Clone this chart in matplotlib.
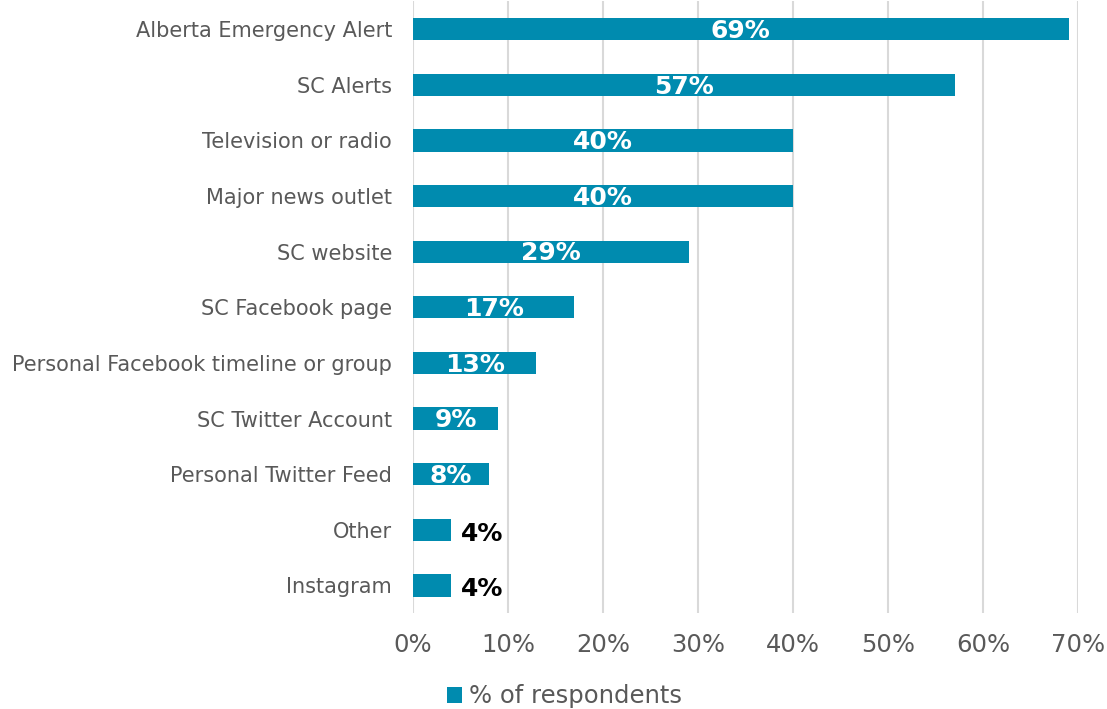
import matplotlib.pyplot as plt
import numpy as np

# Datos
categorias = ['Alberta Emergency Alert', 'SC Alerts', 'Television or radio',
              'Major news outlet', 'SC website', 'SC Facebook page',
              'Personal Facebook timeline or group', 'SC Twitter Account',
              'Personal Twitter Feed', 'Other', 'Instagram']
valores = [69, 57, 40, 40, 29, 17, 13, 9, 8, 4, 4]
ticks_x = [0, 10, 20, 30, 40, 50, 60, 70]

color_barra = '#008BAF'
gris = '#595959'

fig = plt.figure(figsize=(11.07, 7.09), dpi=100)
ax = fig.add_axes([0.373, 0.135, 0.601, 0.863])

y = np.arange(len(categorias))[::-1]
barras = ax.barh(y, valores, height=0.4, color=color_barra, label='% of respondents', zorder=3)

for yi, v in zip(y, valores):
    if v >= 8:
        ax.text(v / 2, yi - 0.03, f'{v}%', ha='center', va='center', color='white',
                fontsize=18, fontweight='bold', zorder=4)
    else:
        ax.text(v + 1.1, yi - 0.07, f'{v}%', ha='left', va='center', color='black',
                fontsize=18, fontweight='bold', zorder=4)

ax.set_xlim(0, 70)
ax.set_ylim(-0.5, len(categorias) - 0.5)
ax.set_xticks(ticks_x)
ax.set_xticklabels([f'{t}%' for t in ticks_x], fontsize=17.5, color=gris)
ax.set_yticks(y)
ax.set_yticklabels(categorias, fontsize=15, color=gris)
ax.tick_params(axis='y', length=0, pad=15)
ax.tick_params(axis='x', length=0, pad=14)
ax.grid(axis='x', color='#D9D9D9', linewidth=1.5, zorder=0)
for s in ax.spines.values():
    s.set_visible(False)

fig.legend(handles=[barras], loc='lower center', bbox_to_anchor=(0.51, -0.03),
           frameon=False, fontsize=17.5, labelcolor=gris,
           handlelength=0.6, handleheight=0.6, handletextpad=0.3)

fig.savefig('out.png', dpi=100)
